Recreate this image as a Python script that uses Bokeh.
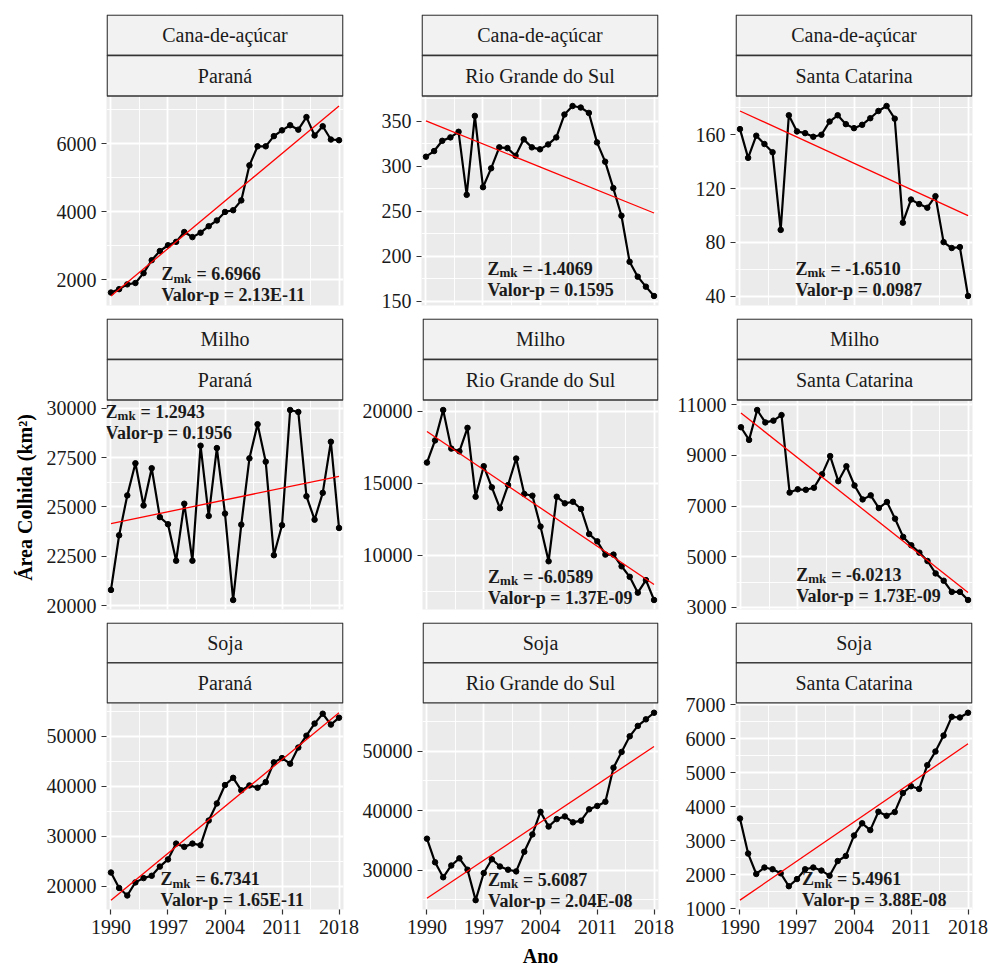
import math

from bokeh.plotting import figure
from bokeh.layouts import column, row
from bokeh.models import Range1d, FixedTicker
from bokeh.core.properties import value
from bokeh.embed import file_html
from bokeh.resources import INLINE

# ---------------------------------------------------------------- data
anos = list(range(1990, 2019))
culturas = ["Cana-de-açúcar", "Milho", "Soja"]
estados = ["Paraná", "Rio Grande do Sul", "Santa Catarina"]

# harvested area (km²), 1990-2018
cana_pr = [1620, 1720, 1860, 1900, 2190, 2570, 2840, 3010, 3110, 3400, 3250, 3380, 3570, 3740, 3990,
           4040, 4330, 5360, 5920, 5920, 6220, 6390, 6540, 6410, 6780, 6240, 6510, 6120, 6100]
cana_rs = [310.5, 316.8, 328.2, 332.0, 338.2, 268.1, 355.9, 276.6, 297.6, 320.9, 320.1, 311.6, 329.8,
           320.9, 318.7, 324.2, 332.0, 357.4, 366.9, 365.2, 359.2, 326.4, 305.0, 275.6, 244.9, 193.7,
           177.1, 166.0, 155.6]
cana_sc = [164.2, 142.8, 159.3, 153.1, 147.0, 89.2, 174.5, 162.5, 161.2, 158.5, 160.0, 169.8, 174.5,
           167.9, 164.9, 167.4, 172.3, 177.7, 181.4, 172.0, 94.6, 111.8, 108.4, 105.7, 114.3, 80.1,
           75.7, 76.4, 40.0]
milho_pr = [20790, 23560, 25580, 27210, 25070, 26960, 24480, 24120, 22270, 25160, 22270, 28100, 24540,
            27980, 24660, 20280, 24100, 27460, 29190, 27290, 22550, 24070, 29910, 29810, 25540, 24350,
            25710, 28300, 23930]
milho_rs = [16440, 17980, 20090, 17410, 17220, 18850, 14070, 16190, 14720, 13270, 14880, 16720, 14260,
            14140, 12000, 9590, 14070, 13610, 13720, 13220, 11480, 10970, 10050, 10050, 9240, 8510,
            7410, 8280, 6900]
milho_sc = [10110, 9610, 10790, 10300, 10370, 10590, 7530, 7660, 7640, 7720, 8250, 8970, 7980, 8570,
            7810, 7260, 7420, 6920, 7160, 6500, 5780, 5450, 5160, 4830, 4340, 4050, 3610, 3610, 3290]
soja_pr = [22760, 19670, 18170, 20790, 21640, 22110, 23940, 25380, 28530, 27880, 28530, 28220, 33140,
           36550, 40230, 41670, 39170, 40150, 39700, 40820, 44760, 45610, 44490, 47720, 50080, 52500,
           54470, 52300, 53680]
soja_rs = [35270, 31310, 28790, 30770, 31970, 30060, 24950, 29500, 31810, 30600, 30060, 29780, 33080,
           35990, 39780, 37310, 38560, 39010, 38020, 38300, 40210, 40770, 41480, 47200, 49840, 52470,
           54220, 55320, 56430]
soja_sc = [3650, 2620, 2020, 2210, 2160, 2040, 1660, 1870, 2160, 2210, 2120, 1970, 2400, 2550, 3150,
           3510, 3310, 3850, 3730, 3840, 4400, 4600, 4520, 5220, 5620, 6090, 6640, 6620, 6760]

series = [[cana_pr, cana_rs, cana_sc],
          [milho_pr, milho_rs, milho_sc],
          [soja_pr, soja_rs, soja_sc]]

# trend line values at 1990 and 2018
trend_ini = [[1518, 350.3, 177.7], [24151, 18600, 10673], [17244, 25280, 1251]]
trend_fim = [[7106, 247.9, 99.8], [26551, 7978, 3590], [54668, 50758, 5846]]

# Mann-Kendall statistics
zmk = [[6.6966, -1.4069, -1.6510], [1.2943, -6.0589, -6.0213], [6.7341, 5.6087, 5.4961]]
valor_p = [["2.13E-11", "0.1595", "0.0987"], ["0.1956", "1.37E-09", "1.73E-09"],
           ["1.65E-11", "2.04E-08", "3.88E-08"]]

# axis ticks
x_ticks = [1990, 1997, 2004, 2011, 2018]
y_ticks = [[[2000, 4000, 6000], [150, 200, 250, 300, 350], [40, 80, 120, 160]],
           [[20000, 22500, 25000, 27500, 30000], [10000, 15000, 20000], [3000, 5000, 7000, 9000, 11000]],
           [[20000, 30000, 40000, 50000], [30000, 40000, 50000], [1000, 2000, 3000, 4000, 5000, 6000, 7000]]]

# ---------------------------------------------------------------- layout / style
FONT = "Liberation Serif"
FW = 237            # panel width (px)
FH = 209            # panel height (px)
STRIP_H = 82        # two facet strips stacked above each panel
LEFT = [66, 62, 61]
RIGHT = [16, 16, 17]
TOP = [14, 0, 0]
BOTTOM = [13, 13, 56]
LABEL_W = 40
X0, X1 = 1989.45, 2018.55

# label anchor: fraction of panel width from the left, pixels above panel bottom
ann_pos = [[(0.232, 10.5), (0.278, 16), (0.253, 16)],
           [(-0.004, 177), (0.278, 12), (0.253, 14)],
           [(0.228, 9.5), (0.278, 9), (0.281, 9.5)]]


def minors(ticks):
    step = ticks[1] - ticks[0]
    return [t - step / 2 for t in ticks] + [ticks[-1] + step / 2]


def cell(i, j):
    ys = series[i][j]
    t0, t1 = trend_ini[i][j], trend_fim[i][j]
    lo = min(min(ys), t0, t1)
    hi = max(max(ys), t0, t1)
    pad = 0.05 * (hi - lo)
    lo, hi = lo - pad, hi + pad
    per_px = (hi - lo) / FH
    top = hi + STRIP_H * per_px

    p = figure(width=LEFT[j] + FW + RIGHT[j], height=TOP[i] + FH + STRIP_H + BOTTOM[i],
               x_range=Range1d(X0, X1), y_range=Range1d(lo, top),
               min_border_left=LEFT[j], min_border_right=RIGHT[j],
               min_border_top=TOP[i], min_border_bottom=BOTTOM[i],
               x_axis_location="below" if i == 2 else None,
               output_backend="svg", toolbar_location=None)
    p.background_fill_color = "#EBEBEB"
    p.border_fill_color = "white"
    p.outline_line_color = None

    yt = y_ticks[i][j]
    p.xgrid.ticker = FixedTicker(ticks=x_ticks, minor_ticks=minors(x_ticks))
    p.ygrid.ticker = FixedTicker(ticks=yt, minor_ticks=minors(yt))
    for g in (p.xgrid, p.ygrid):
        g.grid_line_color = "white"
        g.grid_line_width = 1.8
        g.minor_grid_line_color = "white"
        g.minor_grid_line_width = 0.9

    p.yaxis.ticker = FixedTicker(ticks=yt)
    p.xaxis.ticker = FixedTicker(ticks=x_ticks)
    for ax in list(p.yaxis) + list(p.xaxis):
        ax.axis_line_color = None
        ax.major_tick_line_color = "#333333"
        ax.major_tick_line_width = 1.2
        ax.major_tick_out = 5
        ax.major_tick_in = 0
        ax.minor_tick_out = 0
        ax.minor_tick_in = 0
        ax.major_label_text_font = FONT
        ax.major_label_text_font_size = "20px"
        ax.major_label_text_color = "#1A1A1A"
        ax.major_label_standoff = 5
        ax.axis_label_text_font = FONT
        ax.axis_label_text_font_size = "20px"
        ax.axis_label_text_font_style = "bold"
        ax.axis_label_text_color = "black"

    if i == 2 and j == 1:
        p.xaxis.axis_label = "Ano"
        p.xaxis.axis_label_standoff = 8

    # series line and points, then the trend line
    p.line(x=anos, y=ys, line_color="black", line_width=2.2)
    p.scatter(x=anos, y=ys, size=5.5, color="black")
    p.line(x=[anos[0], anos[-1]], y=[t0, t1], line_color="#FF0000", line_width=1.3)

    # Mann-Kendall labels (Z with subscript "mk", then the p-value line)
    fx, px_up = ann_pos[i][j]
    xa = X0 + fx * (X1 - X0)
    ya = lo + px_up * per_px
    common = dict(text_font=value(FONT), text_font_style="bold", text_color="#1A1A1A",
                  text_align="left", text_baseline="alphabetic")
    p.text(x=[xa], y=[ya], text=["Z"], text_font_size="18px", y_offset=-21, **common)
    p.text(x=[xa], y=[ya], text=["mk"], text_font_size="13px", x_offset=12, y_offset=-17, **common)
    p.text(x=[xa], y=[ya], text=[f"= {zmk[i][j]:.4f}"], text_font_size="18px",
           x_offset=35, y_offset=-21, **common)
    p.text(x=[xa], y=[ya], text=[f"Valor-p = {valor_p[i][j]}"], text_font_size="18px", **common)

    # facet strips (crop on top, state below)
    inset = 0.65 * (X1 - X0) / FW
    b0 = hi + 0.5 * per_px
    b1 = hi + (0.5 + (STRIP_H - 1) / 2) * per_px
    b2 = top - 0.65 * per_px
    p.quad(left=[X0 + inset] * 2, right=[X1 - inset] * 2, bottom=[b1, b0], top=[b2, b1],
           fill_color="#F2F2F2", line_color="#333333", line_width=1.3)
    xm = (X0 + X1) / 2
    p.text(x=[xm, xm], y=[(b1 + b2) / 2, (b0 + b1) / 2], text=[culturas[i], estados[j]],
           text_align="center", text_baseline="middle",
           text_font=value(FONT), text_font_size="20px", text_color="#1A1A1A")
    return p


# shared y-axis title, drawn in its own narrow column
TOTAL_H = sum(TOP) + sum(BOTTOM) + 3 * (FH + STRIP_H)
ylab = figure(width=LABEL_W, height=TOTAL_H, x_range=Range1d(0, LABEL_W),
              y_range=Range1d(TOTAL_H, 0), min_border=0,
              x_axis_location=None, y_axis_location=None,
              output_backend="svg", toolbar_location=None)
ylab.grid.visible = False
ylab.outline_line_color = None
ylab.background_fill_color = "white"
ylab.border_fill_color = "white"
ylab.text(x=[24], y=[497], text=["Área Colhida (km²)"], angle=math.pi / 2,
          text_align="center", text_baseline="middle", text_font=value(FONT),
          text_font_size="20px", text_font_style="bold", text_color="black")

grid_rows = [row(*[cell(i, j) for j in range(3)]) for i in range(3)]
layout = row(ylab, column(*grid_rows))

with open("out.html", "w") as f:
    f.write(file_html(layout, INLINE))
